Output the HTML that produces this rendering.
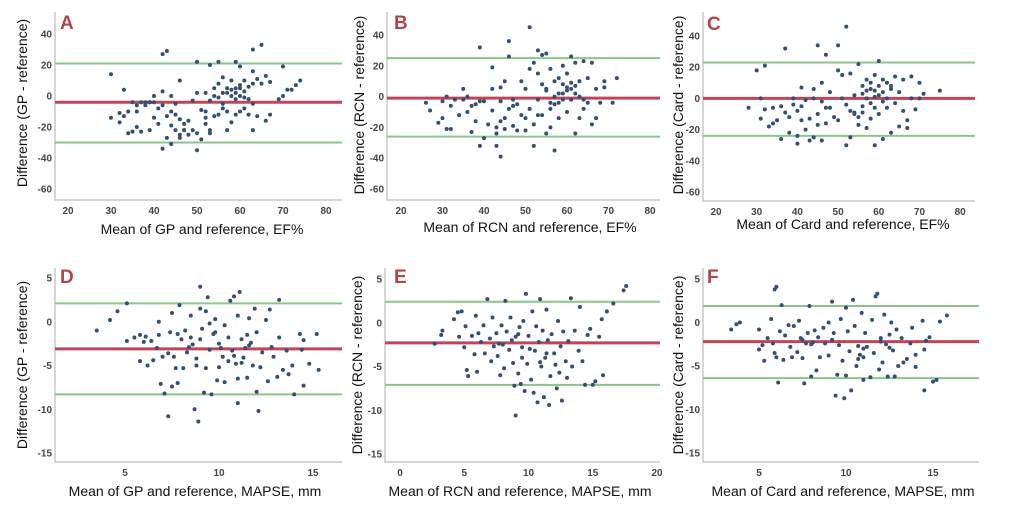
<!DOCTYPE html>
<html><head><meta charset="utf-8"><style>
html,body{margin:0;padding:0;background:#fff;}
svg{display:block;font-family:"Liberation Sans",sans-serif;}
</style></head><body>
<svg id="fig" width="1026" height="510" viewBox="0 0 1026 510"></svg>
<script>
// ---- data ----
const aX=[30,30,32,32,33,33,34,34,35,35,36,36,36,37,37,38,38,39,39,40,40,40,41,41,42,42,42,42,43,43,43,44,44,44,45,45,45,46,46,46,47,47,48,48,49,49,50,50,50,50,51,51,52,52,52,53,53,53,54,54,55,55,55,56,56,56,57,57,57,58,58,58,59,59,59,59,60,60,60,60,61,61,61,62,62,63,63,63,63,63,64,64,65,65,66,66,67,67,69,70,70,71,72,73,74,57,59,60,58,61,56,55,54,62,47,46,44,39,53,52];
const aY=[14,-14,-11,-17,-13,4,-10,-24,-23,-4,-6,-10,-20,-4,-23,-4,-6,-4,-22,0,-4,-14,-8,-18,3,27,-34,-6,29,-27,-13,0,-10,-31,-5,-22,-12,10,-15,-25,-18,-22,-16,-25,-3,-22,-24,2,22,-35,-28,-9,2,-14,-18,20,-22,-3,-13,5,22,8,-12,-5,2,-8,5,-22,2,-17,0,10,-12,22,5,-2,0,19,7,-10,3,10,-8,6,-12,8,16,-22,30,-5,-13,11,33,8,-16,13,9,-12,-2,0,19,4,4,7,10,-10,2,5,4,-1,12,-1,0,-2,-22,-27,-19,-4,-24,-10];
const bX=[26,27,29,30,30,31,31,32,32,33,34,35,35,36,36,37,37,38,38,39,39,39,40,40,41,42,42,42,43,43,43,44,44,44,45,45,45,46,46,46,47,47,48,48,49,49,50,50,50,51,51,51,52,52,52,53,53,53,54,54,54,55,55,55,56,56,56,57,57,57,57,58,58,58,59,59,59,60,60,60,61,61,61,62,62,62,63,63,63,64,64,64,65,65,66,66,67,67,68,69,69,71,72,59,60,61,62,58,56,55,47,44,53];
const bY=[-4,-9,-17,-3,-14,0,-21,-6,-21,-2,-12,-2,5,0,-10,-6,-23,-5,-16,-3,32,-32,-27,-3,-18,-9,5,19,-20,-24,-32,-39,6,-16,10,-14,-21,36,26,-8,-2,-19,-5,-22,-12,10,5,-14,-22,45,18,-8,22,-18,-32,30,15,-2,8,-12,27,5,-24,28,18,-4,-20,-35,10,-5,0,12,2,-14,8,-2,20,4,-10,15,5,26,-2,2,22,-24,10,-14,0,-8,23,-2,12,-4,-18,22,-14,5,-4,10,6,-4,12,2,6,9,7,-4,-8,4,-6,-3,-12];
const cX=[28,30,31,31,32,32,33,34,34,35,36,36,37,37,38,38,39,39,40,40,40,41,41,41,42,42,43,43,44,44,44,45,45,45,46,46,46,47,47,47,48,48,49,50,50,50,51,51,52,52,52,53,53,53,54,54,55,55,55,56,56,56,57,57,57,58,58,58,59,59,59,59,60,60,60,61,61,61,62,62,62,63,63,64,64,65,65,66,66,67,67,68,68,69,70,70,71,75,58,59,60,57,61,63,56,54];
const cY=[-6,18,0,-13,21,-7,-18,-16,-6,-14,-26,-5,-9,32,-12,-22,0,-4,-8,-24,-29,7,-5,-14,-20,-1,-13,-27,6,-25,0,-10,-17,34,10,-2,-27,28,-16,-6,-6,4,-12,18,-14,34,0,15,46,-30,-4,16,-8,-25,2,-10,-17,-12,22,8,-5,3,12,-19,0,-3,10,-13,5,15,-30,-6,24,8,-10,4,12,-26,0,-6,10,6,-22,14,-3,4,-18,-8,12,-14,-19,0,14,-7,10,0,3,5,6,1,2,5,-2,8,-9,-9];
const dX=[3.5,4.2,4.6,5.1,5.1,5.5,5.8,5.8,6.1,6.2,6.4,6.5,6.7,6.8,6.8,6.9,7,7.1,7.3,7.3,7.5,7.5,7.6,7.7,7.8,7.8,7.9,8,8.1,8.2,8.3,8.5,8.5,8.6,8.7,8.8,8.8,8.9,9,9,9,9.1,9.2,9.3,9.3,9.4,9.5,9.5,9.6,9.7,9.8,9.9,10,10,10.2,10.3,10.3,10.5,10.5,10.6,10.7,10.8,10.9,11,11,11,11.1,11.2,11.3,11.4,11.5,11.5,11.6,11.7,11.8,11.9,12,12,12.1,12.2,12.3,12.5,12.6,12.7,12.9,13.1,13.2,13.2,13.4,13.6,13.7,13.9,14,14.3,14.4,14.5,14.5,14.8,15.2,15.3,10.8,11.2,9.8,8.4,12.8,6,7.4,10.1,11.6];
const dY=[-1,0.2,1.2,2.1,-2.2,-1.8,-1.5,-4.5,-1.7,-5,-2.2,-4.4,-3,-1.5,0,-7.1,-4,-8.2,-3.6,-10.8,1,-7.4,-4,-5.3,-1.4,-7,1.9,-2,-5.3,-1,-3.5,0.7,-1.8,-2.6,-10,-5,-4.2,-11.4,4,1.5,-2,-0.8,-8.1,1.2,-5.3,2.8,-3.2,-0.2,-8.3,-1.4,0.3,-6.7,-2.5,-5.2,-4,-0.4,-6.9,-1.8,-4.5,2.4,-3.3,2.9,-4.8,0.7,-6.5,-9.3,3.4,-2,-4.1,-3,-6.4,-1.5,0.4,-2.4,-5,1.5,-1.2,-8,-10.2,-5.2,-3.5,0.2,-6.8,1.4,-4,-6.3,-1.8,2.5,-5.5,-3.3,-6,-5,-8.3,-1.4,-3.2,-2.1,-7.3,-4.8,-1.4,-5.5,-3.9,-4.7,-1.2,-2.9,-2.9,-2.3,-1.2,-3,-2.7];
const eX=[2.7,3.2,3.3,4.2,4.5,4.6,4.8,5,5.1,5.2,5.3,5.6,5.8,5.9,6,6.1,6.3,6.5,6.6,6.8,7,7.1,7.2,7.3,7.5,7.6,7.8,7.9,8,8.1,8.2,8.3,8.5,8.6,8.8,8.9,9,9,9.2,9.3,9.4,9.5,9.6,9.7,9.8,9.9,10,10.2,10.3,10.4,10.5,10.6,10.7,10.8,10.9,11,11.1,11.2,11.3,11.4,11.5,11.6,11.7,11.8,12,12.2,12.3,12.4,12.5,12.6,12.7,12.9,13,13.1,13.3,13.4,13.6,13.9,14,14.2,14.4,14.6,14.8,15,15.2,15.5,15.7,15.8,16.1,16.6,17.4,17.6,9.5,10.1,11.4,8.7,12.1,10.9,7.7,9.2];
const eY=[-2.4,-1.4,-0.9,0.4,1.2,-1.6,1.3,-2.8,-0.4,-5.4,-6.1,-1.5,-3.6,0.8,-5.6,-1.2,-2.2,-0.3,-3.5,2.7,-1.8,-4.4,0.6,-2.7,-1.2,-3.8,-6,-0.3,-2.5,-5.2,2.5,-1,-3.1,0.6,-4.6,-7.2,-10.6,-1.6,-5.8,-0.5,-7,-2.8,0.2,-7.8,3.3,-4.7,-1.5,-6.5,1.3,-8,-3.2,-0.4,-9.1,-2.2,2.7,-5,-0.9,-8.5,-4,1.5,-2,-9.4,-6.1,-1.3,-3.5,-7.5,0.2,-5.7,-2.7,-8.9,-1,-4.4,-6.3,-2.1,2.8,-5,-0.9,-3.2,1.8,-4.4,-7.1,-1.4,-0.7,-7.1,-6.7,-1.6,0.4,-6,1.3,2.2,3.7,4.2,-4,-3,-3.5,-2,-4.8,-4.5,-2.4,-1.3];
const fX=[3.4,3.7,3.9,5,5,5.2,5.3,5.5,5.7,5.8,5.9,5.9,6,6,6.1,6.2,6.3,6.4,6.5,6.7,6.8,6.9,7,7.2,7.3,7.4,7.5,7.6,7.7,7.8,7.9,8,8.1,8.2,8.3,8.4,8.5,8.7,8.8,9,9,9.2,9.3,9.4,9.5,9.6,9.7,9.8,9.9,10,10,10.1,10.2,10.3,10.4,10.5,10.6,10.7,10.8,10.9,11,11,11.1,11.2,11.4,11.5,11.6,11.7,11.8,11.9,12,12.1,12.2,12.3,12.4,12.5,12.6,12.7,12.8,12.9,13,13.2,13.3,13.5,13.7,13.8,14,14,14.4,14.5,14.5,14.6,14.8,15,15.2,15.4,15.8,11,10.7,12,8,7.5,9.2,12.5];
const fY=[-0.8,-0.2,0,-0.8,-3.1,-2.6,-4.4,-1.8,0.4,-2.4,-3.5,3.8,4.1,-4,-6.9,-1,2,-4.3,-1.5,-0.3,-2.8,-4,-0.4,-3.4,0.2,-1.8,-4.1,-7,-2.4,-1.2,1.9,-6.2,-2.3,-0.9,-5.5,-1.7,-4,-0.6,-2.4,0,-3.8,2.4,-1.2,-8.4,-6,-2.6,0.4,-4.4,-8.7,-6.1,1.7,-1,-3.3,-7.8,2.6,-0.4,-5,-2.7,-3.7,1.1,-6.6,-4,-1.2,-2.8,-6.3,0.3,-3.5,3,3.3,-5.4,-1.8,-4.6,0.9,-2.5,-6.2,-1.4,0,-3.2,-6.2,-0.8,-5,-1.8,-4.6,-4.2,-2.4,-0.6,-5.1,-3.7,0.2,-7.8,-3.1,-2.1,-1.7,-6.8,-6.6,0.1,0.8,-3,-4.2,-2.2,-2.5,-2,-2,-2.9];
const efTicksX=[20,30,40,50,60,70,80];
const efTicksY=[40,20,0,-20,-40,-60];
const mTicksY=[5,0,-5,-10,-15];
const dfTicksX=[5,10,15];
const eTicksX=[0,5,10,15,20];
const aLines=[21,-4,-30], bLines=[25,-1,-26], cLines=[23,0,-24];
const dLines=[2.1,-3.1,-8.3], eLines=[2.4,-2.3,-7.1], fLines=[1.9,-2.2,-6.4];

// ---- layout ----
const panels=[
 {id:'a',L:'A',xs:aX,ys:aY,lines:aLines,tx:efTicksX,ty:efTicksY,left:55,right:342,top:12,bottom:200,x0:20,px0:68,sx:4.3,py0:96,sy:1.55,ytl:'Difference (GP - reference)',xtl:'Mean of GP and reference, EF%',ytx:27,ytc:103,xtc:202,xtb:234,lx:60,ly:29},
 {id:'b',L:'B',xs:bX,ys:bY,lines:bLines,tx:efTicksX,ty:efTicksY,left:387,right:660,top:12,bottom:200,x0:20,px0:401,sx:4.15,py0:96.6,sy:1.54,ytl:'Difference (RCN - reference)',xtl:'Mean of RCN and reference, EF%',ytx:364,ytc:105,xtc:530,xtb:232,lx:394,ly:29},
 {id:'c',L:'C',xs:cX,ys:cY,lines:cLines,tx:efTicksX,ty:efTicksY,left:703,right:975,top:12,bottom:201,x0:20,px0:716,sx:4.07,py0:98.4,sy:1.56,ytl:'Difference (Card - reference)',xtl:'Mean of Card and reference, EF%',ytx:683,ytc:105,xtc:843,xtb:229,lx:707,ly:30},
 {id:'d',L:'D',xs:dX,ys:dY,lines:dLines,tx:dfTicksX,ty:mTicksY,left:55,right:342,top:268,bottom:462,x0:5,px0:125,sx:18.8,py0:321.75,sy:8.75,ytl:'Difference (GP - reference)',xtl:'Mean of GP and reference, MAPSE, mm',ytx:27,ytc:365,xtc:195,xtb:496,lx:60,ly:283},
 {id:'e',L:'E',xs:eX,ys:eY,lines:eLines,tx:eTicksX,ty:mTicksY,left:385,right:660,top:268,bottom:462,x0:0,px0:400,sx:12.85,py0:322.75,sy:8.75,ytl:'Difference (RCN - reference)',xtl:'Mean of RCN and reference, MAPSE, mm',ytx:362,ytc:365,xtc:520,xtb:496,lx:394,ly:283},
 {id:'f',L:'F',xs:fX,ys:fY,lines:fLines,tx:dfTicksX,ty:mTicksY,left:703,right:979,top:268,bottom:462,x0:5,px0:759,sx:17.4,py0:322.5,sy:8.7,ytl:'Difference (Card - reference)',xtl:'Mean of Card and reference, MAPSE, mm',ytx:683,ytc:365,xtc:843,xtb:496,lx:707,ly:283}
];
const NS='http://www.w3.org/2000/svg';
const svg=document.getElementById('fig');
function mk(tag,attrs,parent){const e=document.createElementNS(NS,tag);for(const k in attrs)e.setAttribute(k,attrs[k]);parent.appendChild(e);return e;}
panels.forEach(p=>{
 const X=v=>p.px0+(v-p.x0)*p.sx, Y=v=>p.py0-v*p.sy;
 const g=mk('g',{},svg);
 
 
 const ax=mk('path',{d:`M${p.left},${p.top}V${p.bottom}H${p.right}`,fill:'none',stroke:'#c8c8c8','stroke-width':1.5},g);
 
 
 p.ty.forEach(v=>{const t=mk('text',{x:p.left-3,y:Y(v)+3.5,'text-anchor':'end','font-size':10,'font-weight':'bold',fill:'#444'},g);t.textContent=v;
  
  });
 p.tx.forEach(v=>{const t=mk('text',{x:X(v),y:p.bottom+14,'text-anchor':'middle','font-size':10,'font-weight':'bold',fill:'#444'},g);t.textContent=v;
  
  });
 p.lines.forEach((v,i)=>{const ln=mk('line',{x1:p.left,x2:p.right,y1:Y(v),y2:Y(v),stroke:i==1?'#c0455a':'#8cc48c','stroke-width':i==1?3:2},g);
  
  });
 p.xs.forEach((xv,i)=>{const c=mk('circle',{cx:X(xv),cy:Y(p.ys[i]),r:2,fill:'#34506e'},g);
  
  });
 const yt=mk('text',{x:0,y:0,transform:`translate(${p.ytx},${p.ytc}) rotate(-90)`,'text-anchor':'middle','font-size':14,fill:'#111'},g);yt.textContent=p.ytl;
 
 
 const xt=mk('text',{x:p.xtc,y:p.xtb,'text-anchor':'middle','font-size':14,fill:'#111'},g);xt.textContent=p.xtl;
 
 
 const lt=mk('text',{x:p.lx,y:p.ly,'font-size':19,'font-weight':'bold',fill:'#b5434a'},g);lt.textContent=p.L;
 
 
});
</script>
</body></html>
